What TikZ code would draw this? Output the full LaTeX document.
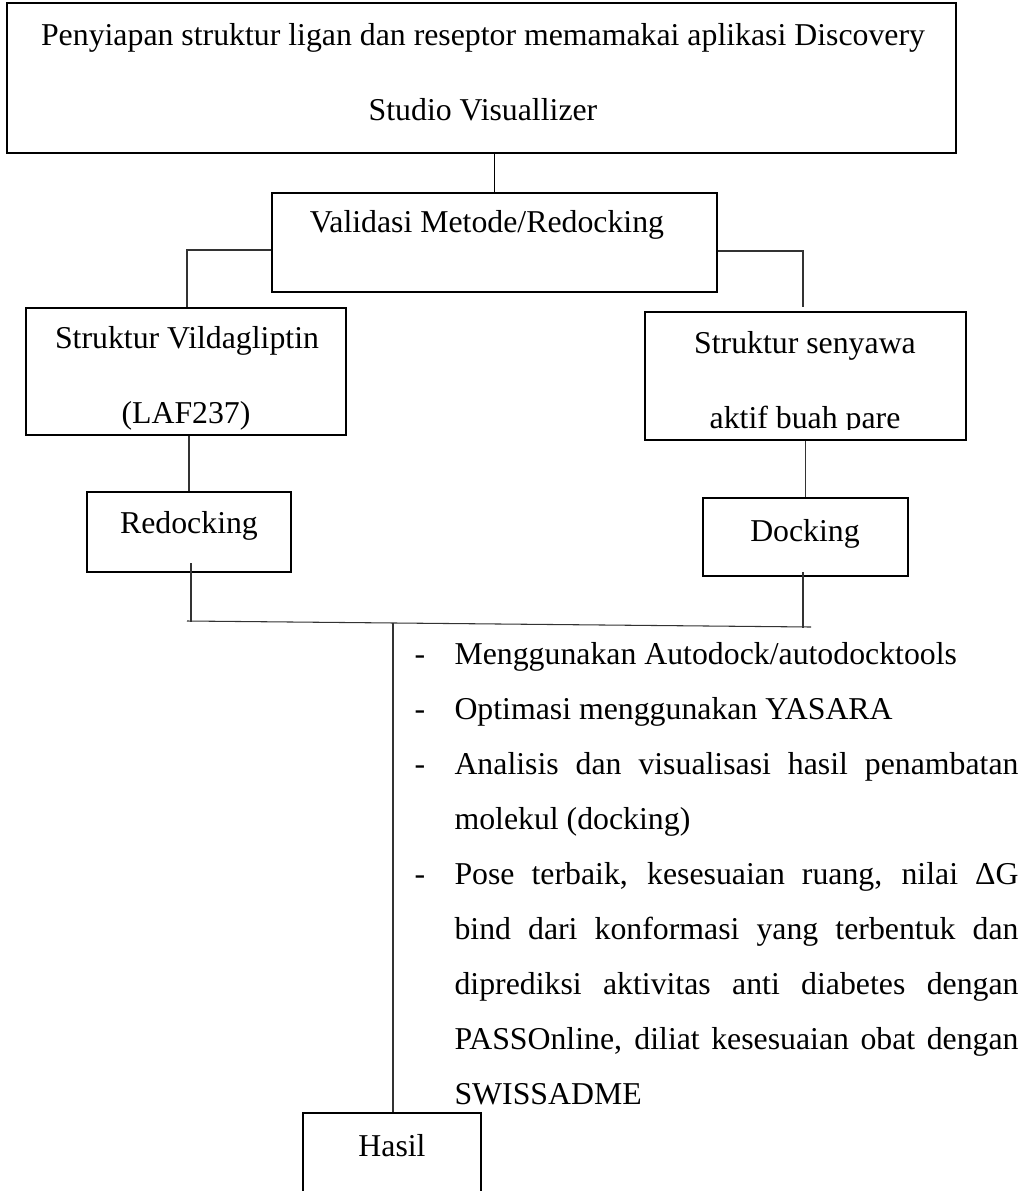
\documentclass[tikz,border=0pt]{standalone}
\usepackage{fontspec}
\setmainfont{Liberation Serif}
\usetikzlibrary{fit}
\begin{document}
\begin{tikzpicture}[x=0.3774pt,y=-0.3774pt,
  box/.style={draw=black, line width=0.8pt, inner sep=0pt},
  conn/.style={draw=black!80, line width=0.4pt},
  txt/.style={inner sep=0pt, anchor=base, font=\fontsize{12}{14}\selectfont},
  ltxt/.style={inner sep=0pt, anchor=base west, font=\fontsize{12}{14}\selectfont}]
\useasboundingbox (0,0) rectangle (1030,1191);
\clip (0,0) rectangle (1030,1191);

% boxes
\node[box, fit={(7,3) (956,153)}] (top) {};
\node[box, fit={(272,193) (717,292)}] (val) {};
\node[box, fit={(26,308) (346,435)}] (vild) {};
\node[box, fit={(645,312) (966,440)}] (seny) {};
\node[box, fit={(87,492) (291,572)}] (redock) {};
\node[box, fit={(703,498) (908,576)}] (dock) {};
\node[box, fit={(303,1113) (481,1240)}] (hasil) {};

% box texts
\node[txt] (t1) at (483,45) {Penyiapan struktur ligan dan reseptor memamakai aplikasi Discovery};
\node[txt] (t2) at (483,120) {Studio Visuallizer};
\node[txt] (tv) at (487,232) {Validasi Metode/Redocking};
\node[txt] (vl1) at (187,348) {Struktur Vildagliptin};
\node[txt] (vl2) at (186,423) {(LAF237)};
\node[txt] (sl1) at (805,353) {Struktur senyawa};
\begin{scope}
  \clip (645,312) rectangle (966,429);
  \node[txt] (sl2) at (805,428) {aktif buah pare};
\end{scope}
\node[txt] (tr) at (189,533) {Redocking};
\node[txt] (td) at (805,541) {Docking};
\node[txt] (th) at (392,1156) {Hasil};

% connector points
\coordinate (lj) at (187,250);
\coordinate (rj) at (803,251);
\coordinate (rend) at (803,307);
\coordinate (rs) at (191,563);
\coordinate (re) at (191,622);
\coordinate (ds) at (803,572);
\coordinate (de) at (803,628);
\coordinate (hl) at (187,621);
\coordinate (hr) at (811,627);
\coordinate (vs) at (393,623);

% connectors
\draw[conn, line width=0.7pt, draw=black] (val.north |- top.south) -- (val.north);
\draw[conn] (val.west |- lj) -- (lj) -- (lj |- vild.north);
\draw[conn] (val.east |- rj) -- (rj) -- (rend);
\draw[conn] (redock.north |- vild.south) -- (redock.north);
\draw[conn] (dock.north |- seny.south) -- (dock.north);
\draw[conn] (rs) -- (re);
\draw[conn] (ds) -- (de);
\draw[conn] (hl) -- (hr);
\draw[conn] (vs) -- (vs |- hasil.north);

% bullet list
\node[ltxt] (d1) at (414,664) {-};
\node[ltxt] (d2) at (414,719) {-};
\node[ltxt] (d3) at (414,774) {-};
\node[ltxt] (d4) at (414,884) {-};
\node[ltxt] (b1) at (454,664) {Menggunakan Autodock/autodocktools};
\node[ltxt] (b2) at (454,719) {Optimasi menggunakan YASARA};
\node[ltxt] (b3) at (454,774) {\makebox[212.85pt][s]{Analisis dan visualisasi hasil penambatan}};
\node[ltxt] (b4) at (454,829) {molekul (docking)};
\node[ltxt] (b5) at (454,884) {\makebox[212.85pt][s]{Pose terbaik, kesesuaian ruang, nilai ΔG}};
\node[ltxt] (b6) at (454,939) {\makebox[212.85pt][s]{bind dari konformasi yang terbentuk dan}};
\node[ltxt] (b7) at (454,994) {\makebox[212.85pt][s]{diprediksi aktivitas anti diabetes dengan}};
\node[ltxt] (b8) at (454,1049) {\makebox[212.85pt][s]{PASSOnline, diliat kesesuaian obat dengan}};
\node[ltxt] (b9) at (454,1104) {SWISSADME};
\end{tikzpicture}
\end{document}
